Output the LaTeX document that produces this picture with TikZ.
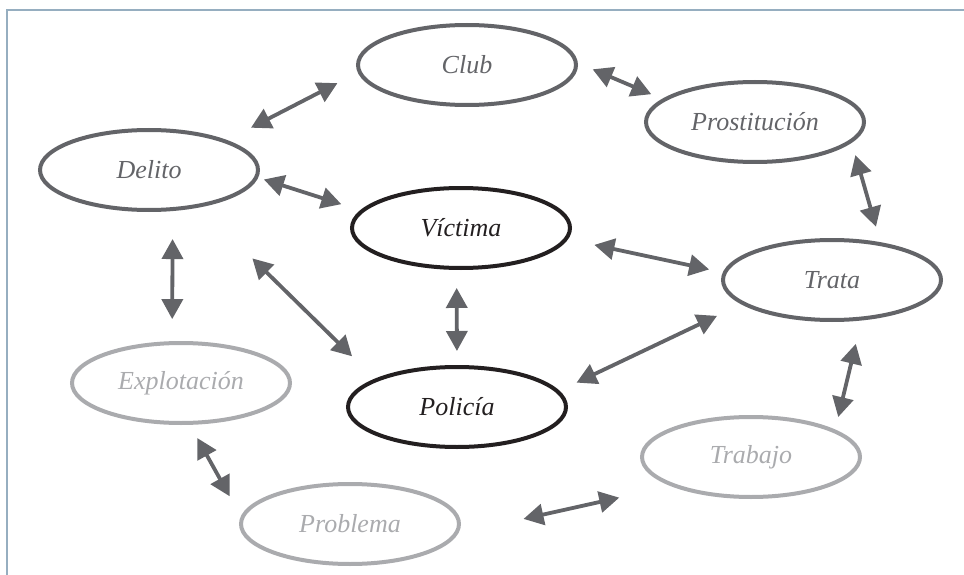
\documentclass[tikz,border=0pt]{standalone}
\usepackage{fontspec}
\setmainfont{Liberation Serif}
\usetikzlibrary{shapes.geometric, arrows.meta}
\definecolor{inkdark}{RGB}{99,100,104}
\definecolor{inkblack}{RGB}{35,31,32}
\definecolor{inklight}{RGB}{170,171,174}
\definecolor{framegrey}{RGB}{150,174,192}
\tikzset{>={Triangle[length=20pt,width=21pt]}}
\tikzset{
    bubble/.style={ellipse, draw=#1, text=#1, line width=4pt,
        minimum width=218pt, minimum height=80pt, inner sep=0pt,
        font=\itshape\fontsize{26}{30}\selectfont},
    link/.style={<->, draw=inkdark, line width=3.8pt}
}

\begin{document}
\begin{tikzpicture}[x=1pt, y=-1pt]
    \useasboundingbox (0,0) rectangle (964,575);
    \draw[framegrey, line width=2pt] (7,575) -- (7,10) -- (964,10);
    \node[bubble=inkdark] (delito) at (149,170) {Delito};
    \node[bubble=inkdark] (club) at (467,65) {Club};
    \node[bubble=inkdark] (prost) at (755,122) {Prostitución};
    \node[bubble=inkblack] (victima) at (461,228) {Víctima};
    \node[bubble=inkdark] (trata) at (832,280) {Trata};
    \node[bubble=inkblack] (policia) at (457,407) {Policía};
    \node[bubble=inklight] (explot) at (181,383) {Explotación};
    \node[bubble=inklight] (trabajo) at (751,457) {Trabajo};
    \node[bubble=inklight] (problema) at (350,524) {Problema};
    \draw[link, shorten <=27pt, shorten >=23pt] (delito.21) -- (club.-176);
    \draw[link, shorten <=16pt, shorten >=12pt] (club.1) -- (prost.166);
    \draw[link, shorten <=13pt, shorten >=16pt] (prost.-12) -- (trata.38);
    \draw[link, shorten <=6pt, shorten >=20pt] (delito.-4) -- (victima.170);
    \draw[link, shorten <=27pt, shorten >=14pt] (victima.-6) -- (trata.176);
    \draw[link, shorten <=18pt, shorten >=14pt] (victima.-96) -- (policia.90);
    \draw[link, shorten <=73pt, shorten >=32pt] (delito.-36) -- (policia.161);
    \draw[link, shorten <=19pt, shorten >=27pt] (policia.9) -- (trata.-165);
    \draw[link, shorten <=28pt, shorten >=22pt] (delito.-60) -- (explot.102);
    \draw[link, shorten <=24pt, shorten >=13pt] (trata.-54) -- (trabajo.18);
    \draw[link, shorten <=15pt, shorten >=23pt] (explot.-78) -- (problema.176);
    \draw[link, shorten <=67pt, shorten >=53pt] (problema.-5) -- (trabajo.-160);
\end{tikzpicture}
\end{document}
